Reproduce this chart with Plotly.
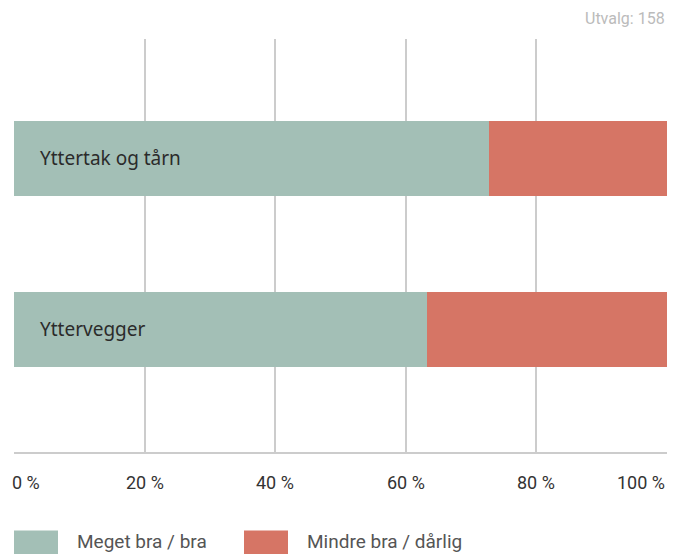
import plotly.graph_objects as go

categories = ["Yttervegger", "Yttertak og tårn"]
good = [63.3, 72.8]
bad = [36.7, 27.2]
series_names = ["Meget bra / bra", "Mindre bra / dårlig"]
colors = ["#a3bfb6", "#d67565"]
tick_vals = [0, 20, 40, 60, 80, 100]
tick_text = ["0 %", "20 %", "40 %", "60 %", "80 %", "100 %"]
sample_text = "Utvalg: 158"

fig = go.Figure()
for name, vals, col in zip(series_names, [good, bad], colors):
    fig.add_trace(go.Bar(
        y=list(range(len(categories))), x=vals, orientation="h", name=name,
        marker=dict(color=col, line=dict(width=0)), width=0.44,
        showlegend=False, hoverinfo="x+name"))

fig.update_layout(
    barmode="stack",
    width=683, height=554,
    margin=dict(l=14, r=16, t=39, b=100.5),
    paper_bgcolor="white", plot_bgcolor="white",
    xaxis=dict(range=[0, 100], tickvals=tick_vals, showticklabels=False,
               showgrid=True, gridcolor="#cccccc", gridwidth=2,
               zeroline=False, showline=False, fixedrange=True),
    yaxis=dict(range=[-0.725, 1.699], showticklabels=False, showgrid=False,
               zeroline=False, fixedrange=True),
    font=dict(family="Roboto, sans-serif"),
)

# baseline
fig.add_shape(type="line", xref="x", yref="paper", x0=0, x1=100, y0=0, y1=0,
              line=dict(color="#cccccc", width=2))

# category labels inside bars
for i, c in enumerate(categories):
    fig.add_annotation(x=0, y=i, xref="x", yref="y", text=c, showarrow=False,
                       xanchor="left", xshift=24,
                       font=dict(family="Noto Sans, sans-serif", size=19, color="#2b2b2b"))

# tick labels
for v, t in zip(tick_vals, tick_text):
    anchor = "left" if v == 0 else ("right" if v == 100 else "center")
    shift = -4 if v == 0 else 0
    fig.add_annotation(x=v, y=0, xref="x", yref="paper", yshift=-29, text=t,
                       showarrow=False, xanchor=anchor, yanchor="middle", xshift=shift,
                       font=dict(family="Roboto, sans-serif", size=18, color="#333333"))

# sample size
fig.add_annotation(x=1, y=1, xref="paper", yref="paper", yshift=21, text=sample_text,
                   showarrow=False, xanchor="right", yanchor="middle",
                   font=dict(family="Roboto, sans-serif", size=16, color="#bbbbbb"))

# legend
leg_x = [14, 244]
for name, col, lx in zip(series_names, colors, leg_x):
    fig.add_shape(type="rect", xref="paper", yref="paper",
                  x0=(lx - 14) / 653, x1=(lx + 30) / 653,
                  y0=(453.5 - 560) / 414.5, y1=(453.5 - 531) / 414.5,
                  fillcolor=col, line=dict(width=0))
    fig.add_annotation(x=(lx + 61 - 14) / 653, y=(453.5 - 542) / 414.5,
                       xref="paper", yref="paper", text=name, showarrow=False,
                       xanchor="left", yanchor="middle",
                       font=dict(family="Roboto, sans-serif", size=19, color="#555555"))

fig.write_html("out.html", config={"displayModeBar": False},
               post_script="document.body.style.margin='0';document.body.style.overflow='hidden';")
